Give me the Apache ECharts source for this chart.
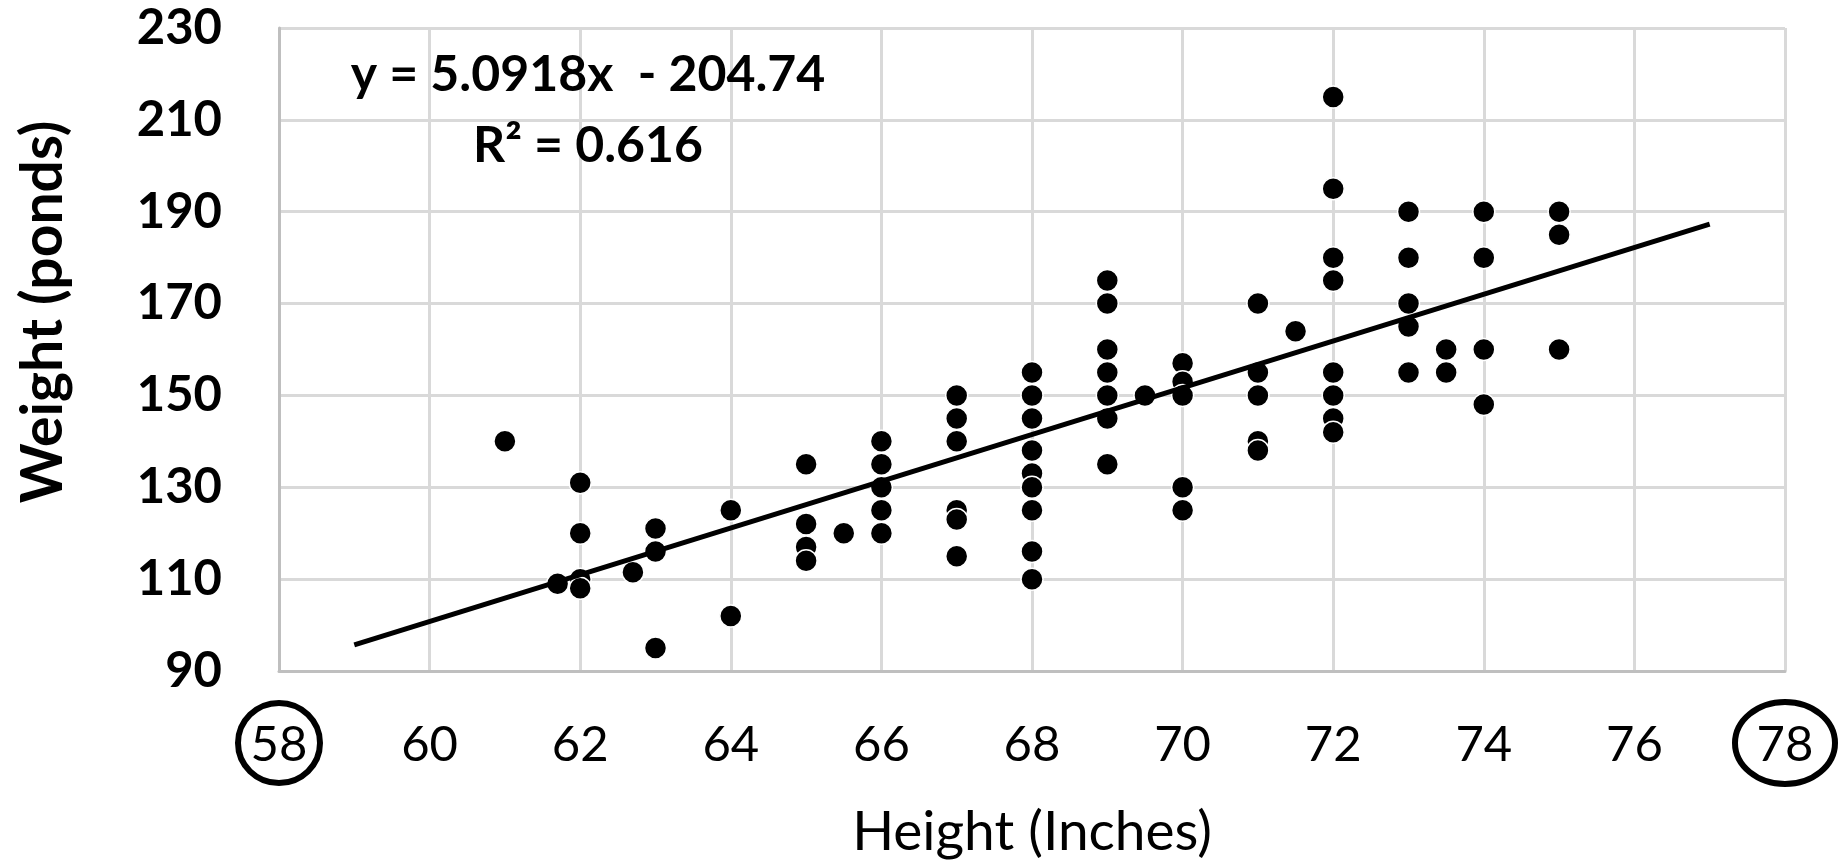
<!DOCTYPE html>
<html>
<head>
<meta charset="utf-8">
<script src="https://cdn.jsdelivr.net/npm/echarts@6/dist/echarts.min.js"></script>
<style>
  html, body { margin: 0; padding: 0; background: #fff; }
  #chart { width: 1839px; height: 865px; }
</style>
</head>
<body>
<div id="chart"></div>
<script>
"use strict";
// height (inches) / weight (pounds)
var heights = [
    61, 61.7, 62, 62, 62, 62, 62.7, 63, 63, 63, 64, 64,
    65, 65, 65, 65, 65.5, 66, 66, 66, 66, 66,
    67, 67, 67, 67, 67, 67,
    68, 68, 68, 68, 68, 68, 68, 68, 68,
    69, 69, 69, 69, 69, 69, 69, 69.5,
    70, 70, 70, 70, 70, 71, 71, 71, 71, 71, 71.5,
    72, 72, 72, 72, 72, 72, 72, 72,
    73, 73, 73, 73, 73, 73.5, 73.5, 74, 74, 74, 74, 75, 75, 75
];
var weights = [
    140, 109, 131, 120, 110, 108, 111.5, 121, 116, 95, 125, 102,
    135, 122, 117, 114, 120, 140, 135, 130, 125, 120,
    150, 145, 140, 125, 123, 115,
    155, 150, 145, 138, 133, 130, 125, 116, 110,
    175, 170, 160, 155, 150, 145, 135, 150,
    157, 153, 150, 130, 125, 170, 155, 150, 140, 138, 164,
    215, 195, 180, 175, 155, 150, 145, 142,
    190, 180, 170, 165, 155, 160, 155, 190, 180, 160, 148, 190, 185, 160
];
// linear trend line end points
var trendX = [59, 77];
var trendY = [95.7, 187.3];
var equationText = 'y = 5.0918x  - 204.74';
var rSquaredText = 'R\u00b2 = 0.616';
var xName = 'Height (Inches)';
var yName = 'Weight (ponds)';
var circledTicks = [58, 78];

var FONT = 'Lato, "Open Sans", sans-serif';
var GRID = '#d9d9d9';
var AXIS = '#bfbfbf';

var points = [];
for (var i = 0; i < heights.length; i++) {
    points.push([heights[i], weights[i]]);
}
var trend = [];
for (var j = 0; j < trendX.length; j++) {
    trend.push([trendX[j], trendY[j]]);
}

var el = document.getElementById('chart');
var chart = echarts.init(el);
chart.setOption({
    animation: false,
    backgroundColor: '#fff',
    grid: { left: 279, right: 54, top: 28, bottom: 193, containLabel: false },
    xAxis: {
        type: 'value',
        min: 58,
        max: 78,
        interval: 2,
        name: xName,
        nameLocation: 'middle',
        nameGap: 134,
        nameTextStyle: { fontFamily: FONT, fontSize: 55, color: '#000' },
        axisLine: { show: true, onZero: false, lineStyle: { color: AXIS, width: 3 } },
        axisTick: { show: false },
        axisLabel: { margin: 50, fontFamily: FONT, fontSize: 49, color: '#000' },
        splitLine: { show: true, lineStyle: { color: GRID, width: 3 } }
    },
    yAxis: {
        type: 'value',
        min: 90,
        max: 230,
        interval: 20,
        axisLine: { show: true, onZero: false, lineStyle: { color: AXIS, width: 3 } },
        axisTick: { show: false },
        axisLabel: { margin: 57, fontFamily: FONT, fontSize: 49, fontWeight: 'bold', color: '#000' },
        splitLine: { show: true, lineStyle: { color: GRID, width: 3 } }
    },
    series: [
        {
            type: 'scatter',
            data: points,
            symbol: 'circle',
            symbolSize: 22,
            itemStyle: { color: '#000', opacity: 1, borderColor: '#fff', borderWidth: 1.5 },
            z: 3
        },
        {
            type: 'line',
            data: trend,
            symbol: 'none',
            lineStyle: { color: '#000', width: 5 },
            z: 4
        }
    ]
});

// annotations: equation text, rotated y name, circles around end ticks
var gfx = [
    {
        type: 'text', x: 588, y: 75,
        style: { text: equationText, font: 'bold 50px ' + FONT, fill: '#000', align: 'center', verticalAlign: 'middle' }
    },
    {
        type: 'text', x: 588, y: 146,
        style: { text: rSquaredText, font: 'bold 50px ' + FONT, fill: '#000', align: 'center', verticalAlign: 'middle' }
    },
    {
        type: 'text', x: 44, y: 312, rotation: Math.PI / 2,
        style: { text: yName, font: 'bold 57px ' + FONT, fill: '#000', align: 'center', verticalAlign: 'middle' }
    }
];
var radii = [[41, 40], [50, 41]];
for (var k = 0; k < circledTicks.length; k++) {
    var px = chart.convertToPixel({ xAxisIndex: 0 }, circledTicks[k]);
    gfx.push({
        type: 'ellipse',
        shape: { cx: px, cy: 743, rx: radii[k][0], ry: radii[k][1] },
        style: { fill: 'none', stroke: '#000', lineWidth: 6 }
    });
}
chart.setOption({ graphic: gfx });
</script>
</body>
</html>
